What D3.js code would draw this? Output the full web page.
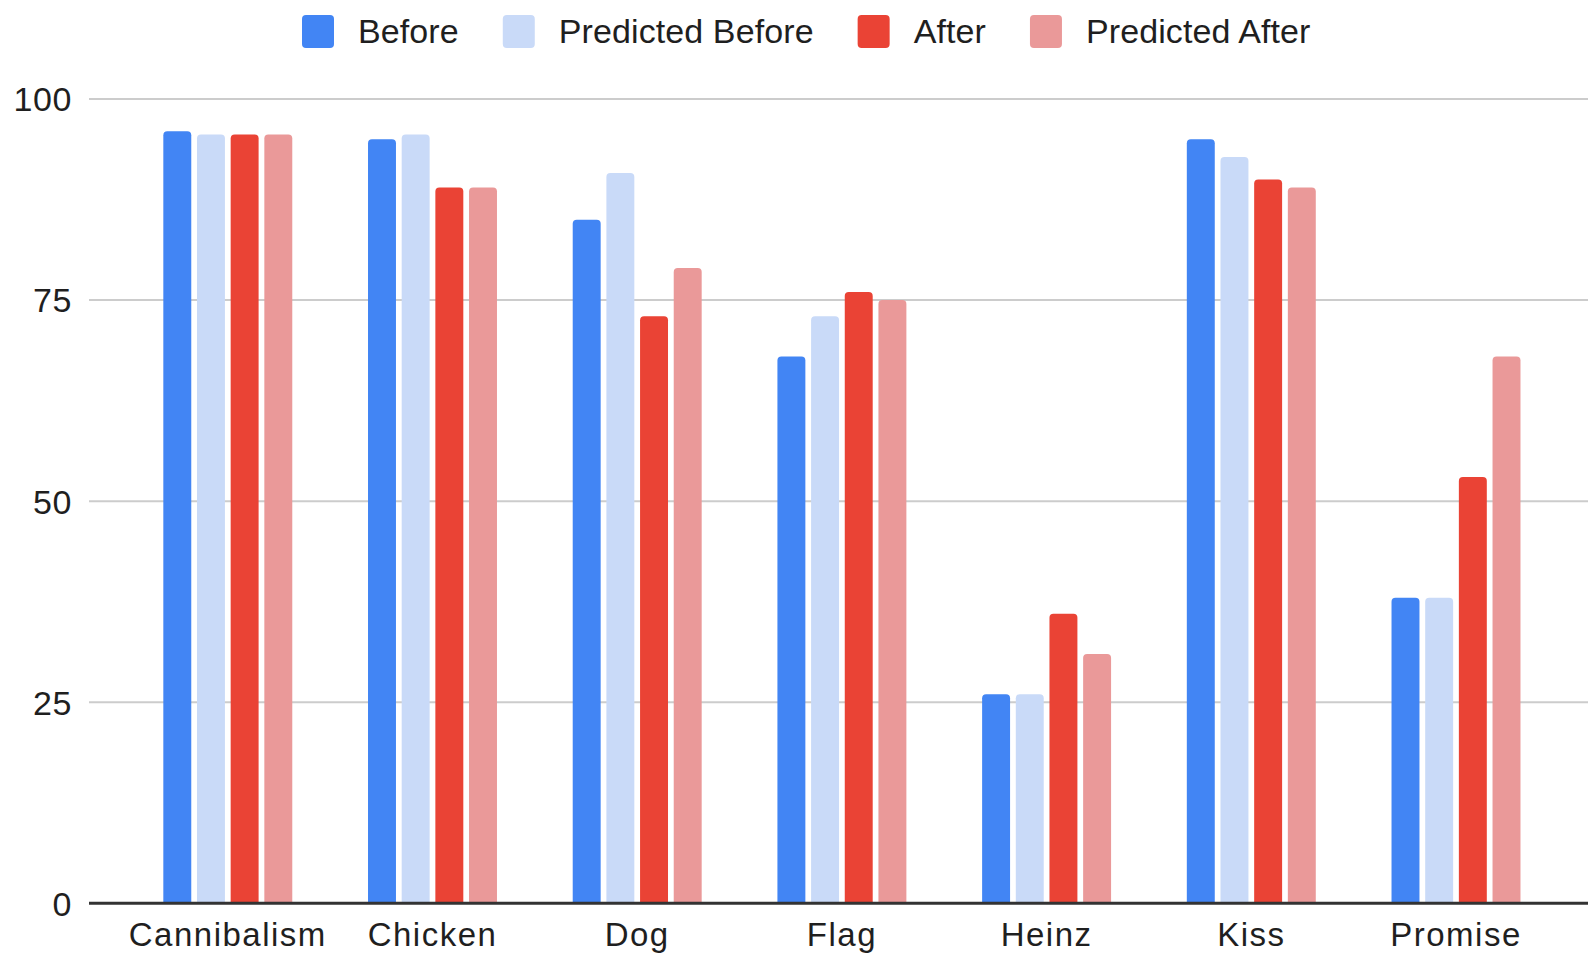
<!DOCTYPE html>
<html>
<head>
<meta charset="utf-8">
<script src="https://cdn.jsdelivr.net/npm/d3@7"></script>
<style>
  html, body { margin: 0; padding: 0; background: #ffffff; }
  svg { display: block; font-family: "Liberation Sans", Arial, sans-serif; }
</style>
</head>
<body>
<svg id="chart" width="1588" height="954"></svg>
<script>
// Categories and series values
const categories = ["Cannibalism", "Chicken", "Dog", "Flag", "Heinz", "Kiss", "Promise"];
const seriesNames = ["Before", "Predicted Before", "After", "Predicted After"];
const before          = [96, 95, 85, 68, 26, 95, 38];
const predictedBefore = [95.6, 95.6, 90.8, 73, 26, 92.8, 38];
const after           = [95.6, 89, 73, 76, 36, 90, 53];
const predictedAfter  = [95.6, 89, 79, 75, 31, 89, 68];
const seriesColors = ["#4285f4", "#c9daf8", "#ea4335", "#ea9999"];
const yTicks = [0, 25, 50, 75, 100];

const seriesValues = [before, predictedBefore, after, predictedAfter];

const svg = d3.select("#chart");
const W = 1588, H = 954;

// Plot frame
const plotLeft = 89, plotRight = W;
const yTop = 99, yBottom = 903.3;

const y = d3.scaleLinear().domain([0, 100]).range([yBottom, yTop]);

// Category bands (groups centred in 204.7px slots)
const slot = 204.7;
const firstBand = 227.8 - slot / 2;
const x0 = d3.scaleBand()
  .domain(categories)
  .range([firstBand, firstBand + slot * categories.length])
  .paddingInner(0.37)
  .paddingOuter(0.185);

const x1 = d3.scaleBand()
  .domain(seriesNames)
  .range([0, x0.bandwidth()])
  .paddingInner(0.17);

// Gridlines
svg.append("g")
  .selectAll("line")
  .data(yTicks.filter(d => d !== 0))
  .join("line")
  .attr("x1", plotLeft).attr("x2", plotRight)
  .attr("y1", d => y(d)).attr("y2", d => y(d))
  .attr("stroke", "#cccccc")
  .attr("stroke-width", 2);

// Y axis labels
const yAxis = d3.axisLeft(y).tickValues(yTicks).tickSize(0).tickPadding(0);
const yG = svg.append("g")
  .attr("transform", `translate(72,0)`)
  .call(yAxis);
yG.select(".domain").remove();
yG.selectAll("text")
  .attr("font-size", 34)
  .attr("fill", "#1f1f1f")
  .attr("font-family", "Liberation Sans, Arial, sans-serif")
  .attr("letter-spacing", "0.6px")
  .attr("dy", "0.35em");

// Bars with rounded top corners
function topRoundedBar(x, yT, w, h, r) {
  r = Math.min(r, w / 2, h);
  return `M${x},${yT + h}` +
    `L${x},${yT + r}` +
    `Q${x},${yT} ${x + r},${yT}` +
    `L${x + w - r},${yT}` +
    `Q${x + w},${yT} ${x + w},${yT + r}` +
    `L${x + w},${yT + h}Z`;
}

const barData = [];
categories.forEach((c, i) => {
  seriesNames.forEach((s, j) => {
    barData.push({ cat: c, series: s, value: seriesValues[j][i], color: seriesColors[j] });
  });
});

svg.append("g")
  .selectAll("path")
  .data(barData)
  .join("path")
  .attr("d", d => {
    const bx = x0(d.cat) + x1(d.series);
    const by = y(d.value);
    return topRoundedBar(bx, by, x1.bandwidth(), yBottom - by, 4);
  })
  .attr("fill", d => d.color);

// Baseline
svg.append("line")
  .attr("x1", plotLeft).attr("x2", plotRight)
  .attr("y1", yBottom).attr("y2", yBottom)
  .attr("stroke", "#333333")
  .attr("stroke-width", 3);

// X axis labels
const xAxis = d3.axisBottom(x0).tickSize(0).tickPadding(0);
const xG = svg.append("g")
  .attr("transform", `translate(0,${yBottom})`)
  .call(xAxis);
xG.select(".domain").remove();
xG.selectAll("text")
  .attr("font-size", 33)
  .attr("fill", "#1f1f1f")
  .attr("font-family", "Liberation Sans, Arial, sans-serif")
  .attr("letter-spacing", "1.5px")
  .attr("y", 0)
  .attr("dy", 0)
  .attr("transform", "translate(0,43)");

// Legend
const legend = svg.append("g");
let lx = 302;
seriesNames.forEach((name, j) => {
  legend.append("rect")
    .attr("x", lx).attr("y", 15)
    .attr("width", 32).attr("height", 33)
    .attr("rx", 4)
    .attr("fill", seriesColors[j]);
  const t = legend.append("text")
    .attr("x", lx + 56).attr("y", 31)
    .attr("dy", "0.35em")
    .attr("font-size", 34)
    .attr("letter-spacing", "0.1px")
    .attr("fill", "#1f1f1f")
    .text(name);
  lx = lx + 56 + t.node().getComputedTextLength() + 44;
});
</script>
</body>
</html>
